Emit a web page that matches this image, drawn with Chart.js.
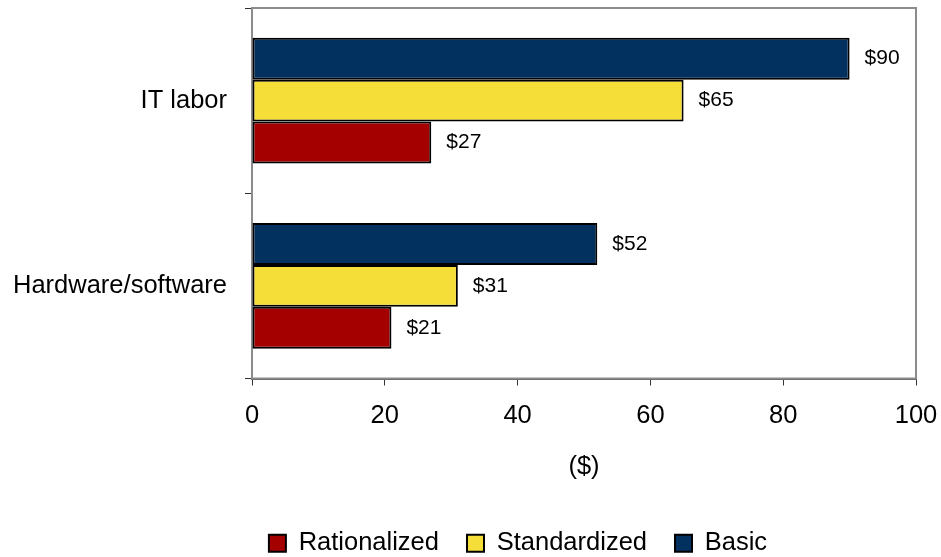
<!DOCTYPE html>
<html>
<head>
<meta charset="utf-8">
<script src="https://cdn.jsdelivr.net/npm/chart.js@4"></script>
<style>
  html, body { margin: 0; padding: 0; background: #fff; }
  #wrap { width: 941px; height: 557px; }
</style>
</head>
<body>
<div id="wrap"><canvas id="mycanvas"></canvas></div>
<script>
var categories = ['IT labor', 'Hardware/software'];
var basic = [90, 52];
var standardized = [65, 31];
var rationalized = [27, 21];
var xTicks = [0, 20, 40, 60, 80, 100];

var fontFamily = '"Liberation Sans", Arial, sans-serif';
var font = { family: fontFamily, size: 25.5 };

// widest category name, so the mirrored labels can be pulled back left of the axis
var mctx = document.createElement('canvas').getContext('2d');
mctx.font = '25.5px ' + fontFamily;
var widest = Math.max.apply(null, categories.map(function(c) { return mctx.measureText(c).width; }));

// gray frame round the plot area
var frame = {
  id: 'frame',
  beforeDatasetsDraw: function(chart) {
    var a = chart.chartArea, ctx = chart.ctx;
    ctx.save();
    ctx.strokeStyle = '#8c8c8c';
    ctx.lineWidth = 2;
    ctx.strokeRect(a.left, a.top, a.right - a.left, a.bottom - a.top);
    ctx.restore();
  }
};

// "$nn" after the end of each bar
var valueLabels = {
  id: 'valueLabels',
  afterDatasetsDraw: function(chart) {
    var ctx = chart.ctx;
    ctx.save();
    ctx.font = '21px ' + fontFamily;
    ctx.fillStyle = '#000';
    ctx.textBaseline = 'middle';
    ctx.textAlign = 'left';
    chart.data.datasets.forEach(function(ds, i) {
      chart.getDatasetMeta(i).data.forEach(function(bar, j) {
        ctx.fillText('$' + ds.data[j], bar.x + 15, bar.y);
      });
    });
    ctx.restore();
  }
};

var chartdata = {
  labels: categories,
  datasets: [
    { label: 'Basic', data: basic, backgroundColor: '#02305f' },
    { label: 'Standardized', data: standardized, backgroundColor: '#f5de38' },
    { label: 'Rationalized', data: rationalized, backgroundColor: '#a50000' }
  ]
};
chartdata.datasets.forEach(function(ds) {
  ds.borderColor = '#000';
  ds.borderWidth = 2;
  ds.borderSkipped = false;
  ds.categoryPercentage = 0.68;
  ds.barPercentage = 1.0;
});

new Chart(document.getElementById('mycanvas'), {
  type: 'bar',
  data: chartdata,
  plugins: [frame, valueLabels],
  options: {
    indexAxis: 'y',
    responsive: true,
    maintainAspectRatio: false,
    animation: false,
    layout: { padding: { left: 120, top: 8, right: 25, bottom: -9 } },
    scales: {
      x: {
        min: 0,
        max: 100,
        afterBuildTicks: function(s) { s.ticks = xTicks.map(function(v) { return { value: v }; }); },
        grid: { drawOnChartArea: false, tickLength: 7, color: '#333', lineWidth: 1 },
        border: { color: '#555', width: 2 },
        ticks: { color: '#000', font: font, padding: 15 },
        title: { display: true, text: '($)', color: '#000', font: font, padding: { top: 0, bottom: 20 } },
        afterFit: function(s) {
          s.height = 124;
          s.paddingLeft = 0;
          s.paddingRight = 0;
        }
      },
      y: {
        grid: { drawOnChartArea: false, tickLength: 7, color: '#333', lineWidth: 1, offset: true },
        border: { color: '#222', width: 2 },
        // mirrored so the names are not clipped to the narrow axis box
        ticks: { color: '#000', font: font, mirror: true, crossAlign: 'far', padding: -(25 + widest) },
        afterFit: function(s) {
          s.width = 132;
          s.paddingTop = 0;
          s.paddingBottom = 0;
        }
      }
    },
    plugins: {
      legend: {
        position: 'bottom',
        reverse: true,
        labels: {
          color: '#000',
          font: font,
          boxWidth: 17,
          boxHeight: 17,
          padding: 28
        }
      },
      tooltip: { enabled: false }
    }
  }
});
</script>
</body>
</html>
